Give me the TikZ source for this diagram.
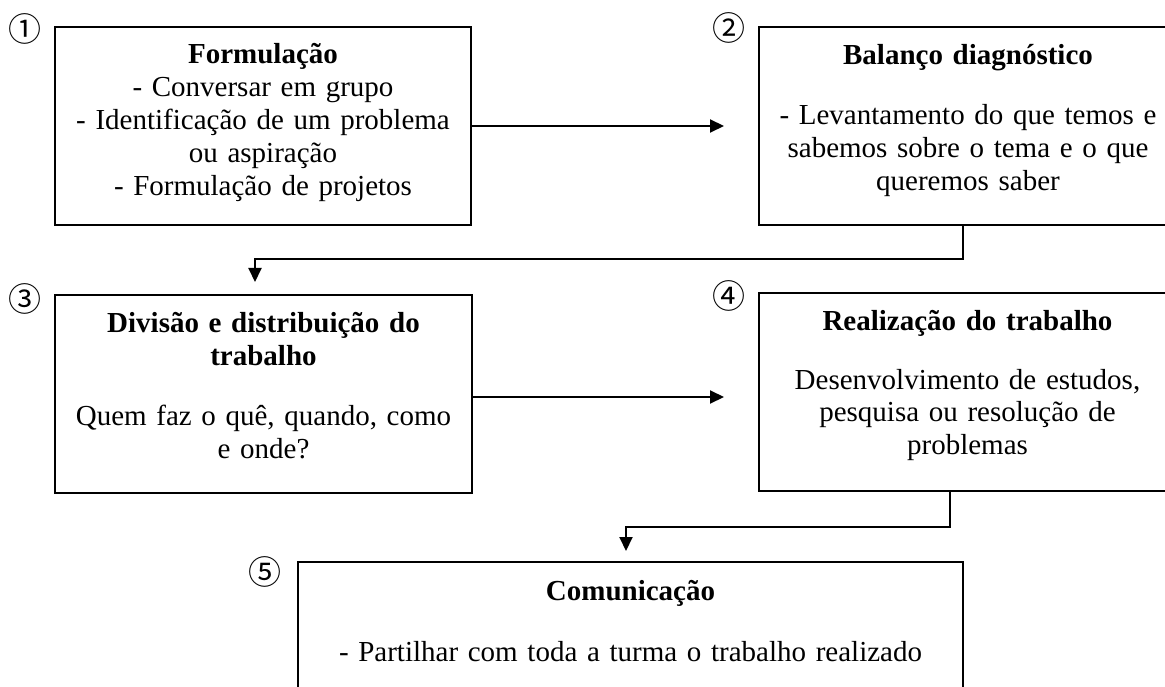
\documentclass[tikz,border=0pt]{standalone}
\usepackage{fontspec}
\setmainfont{Liberation Serif}
\newfontfamily\circfont{Noto Sans CJK JP}
\usetikzlibrary{arrows.meta,calc}
\begin{document}
\begin{tikzpicture}[x=1pt,y=-1pt,
  box/.style={draw,line width=2pt,inner sep=0pt},
  txt/.style={font=\fontsize{29}{33}\selectfont,align=center,anchor=base,inner sep=0pt},
  num/.style={font=\circfont\fontsize{33}{33}\selectfont,inner sep=0pt},
  conn/.style={line width=2pt,-{Triangle[length=14pt,width=13pt]}}]
\useasboundingbox (0,0) rectangle (1165,687);
\clip (0,0) rectangle (1165,687);
% boxes
\node[box,minimum width=416pt,minimum height=198pt] (b1) at (263,126) {};
\node[box,minimum width=418pt,minimum height=198pt] (b2) at (968,126) {};
\node[box,minimum width=417pt,minimum height=198pt] (b3) at (263.5,394) {};
\node[box,minimum width=417pt,minimum height=198pt] (b4) at (967.5,392) {};
\node[box,minimum width=665pt,minimum height=158pt] (b5) at (630.5,641) {};
% texts
\node[txt,text width=400pt] (t1) at (263,64) {\textbf{Formulação}\\- Conversar em grupo\\- Identificação de um problema\\ou aspiração\\- Formulação de projetos};
\node[txt,text width=400pt] (t2) at (968,65) {\textbf{Balanço diagnóstico}\\[27pt]- Levantamento do que temos e\\sabemos sobre o tema e o que\\queremos saber};
\node[txt,text width=400pt] (t3) at (263.5,332) {\textbf{Divisão e distribuição do}\\\textbf{trabalho}\\[27pt]Quem faz o quê, quando, como\\e onde?};
\node[txt,text width=400pt] (t4) at (967.5,330) {\textbf{Realização do trabalho}\\[26pt]Desenvolvimento de estudos,\\pesquisa ou resolução de\\problemas};
\node[txt,text width=640pt] (t5) at (630.5,600) {\textbf{Comunicação}\\[28pt]- Partilhar com toda a turma o trabalho realizado};
% numbers
\node[num] (n1) at (25,29) {①};
\node[num] (n2) at (728.5,28) {②};
\node[num] (n3) at (25.5,299) {③};
\node[num] (n4) at (729,296) {④};
\node[num] (n5) at (265,572) {⑤};
% connectors
\coordinate (c34) at ($(b3.east)+(0,3)$);
\draw[conn,shorten >=34pt] (b1.east) -- (b2.west);
\draw[conn,shorten >=34pt] (c34) -- (c34 -| b4.west);
\draw[conn,shorten >=12pt] ([xshift=-5pt]b2.south) -- ++(0,33) -| ([xshift=-8.5pt]b3.north);
\draw[conn,shorten >=10pt] ([xshift=-17.5pt]b4.south) -- ++(0,35) -| ([xshift=-4.5pt]b5.north);
\end{tikzpicture}
\end{document}
